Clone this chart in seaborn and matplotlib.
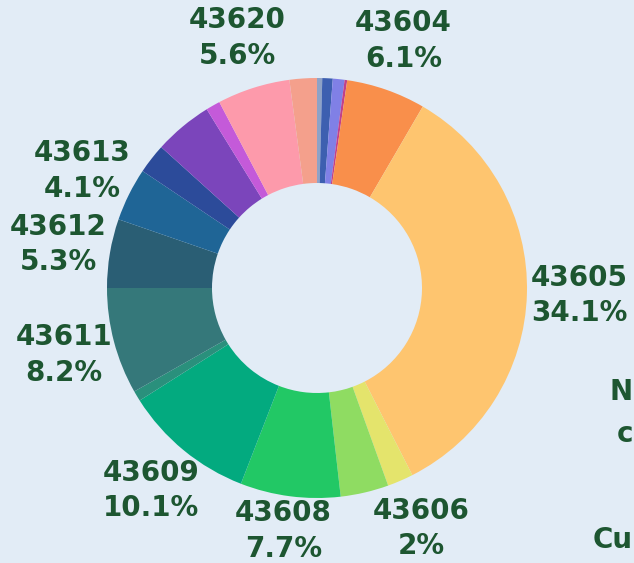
import numpy as np
import matplotlib
matplotlib.use("Agg")
import matplotlib.pyplot as plt
import seaborn as sns

# ---- data ----
zip_codes = ["43528", "43537", "43560", "43566",
             "43604", "43605", "43606", "43607", "43608", "43609", "43610",
             "43611", "43612", "43613", "43614", "43615", "43617", "43620", "43623"]
shares = [0.4, 0.8, 0.9, 0.2,
          6.1, 34.1, 2.0, 3.7, 7.7, 10.1, 0.8,
          8.2, 5.3, 4.1, 2.3, 4.5, 1.1, 5.6, 2.1]
labeled = ["43604", "43605", "43606", "43608", "43609", "43611", "43612", "43613", "43620"]
slice_colors = ["#8fa2c6", "#3d5fb0", "#8080e6", "#c2408a",
                "#f98f4b", "#fec56f", "#e4e46c", "#8fdc62", "#22c865", "#03aa7f", "#2a907c",
                "#35787a", "#2a5e74", "#1f6596", "#2c4b9a", "#7b45bb", "#c45ad9", "#fd9aab", "#f4a08c"]
edge_texts = ["N", "c", "Cu"]

BG = "#e2ecf6"
TXT = "#1d5631"

sns.set_style("white")
plt.rcParams["font.family"] = ["DejaVu Sans"]

W, H = 634, 563
fig = plt.figure(figsize=(W / 100, H / 100), dpi=100)
fig.patch.set_facecolor(BG)
ax = fig.add_axes([0, 0, 1, 1])
ax.set_facecolor(BG)

cx, cy, R = 317, H - 288, 210
palette = sns.color_palette(slice_colors)
wedges, _ = ax.pie(shares, colors=palette, startangle=90, counterclock=False,
                   center=(cx, cy), radius=R,
                   wedgeprops=dict(width=R * 0.5, linewidth=0))

ax.set_xlim(0, W)
ax.set_ylim(0, H)
ax.set_aspect("equal")
ax.axis("off")

total = sum(shares)
RL = 262          # label centre distance
half_h = 31       # half height of a two-line label block
for w, z, v in zip(wedges, zip_codes, shares):
    if z not in labeled:
        continue
    mid = np.deg2rad((w.theta1 + w.theta2) / 2)
    x = cx + RL * np.cos(mid)
    y = cy + RL * np.sin(mid)
    y = min(max(y, half_h + 1), H - half_h - 1)
    pct = "{:.3g}%".format(100 * v / total)
    ax.text(x, y, f"{z}\n{pct}", ha="center", va="center", color=TXT,
            fontsize=20, fontweight="bold", linespacing=1.35)

# partially visible text at the right edge (neighbouring panel)
for t, yy in zip(edge_texts, [392, 434, 540]):
    ax.text(W - 1, H - yy, t, ha="right", va="center", color=TXT,
            fontsize=20, fontweight="bold")

fig.savefig("out.png", dpi=100, facecolor=BG)
